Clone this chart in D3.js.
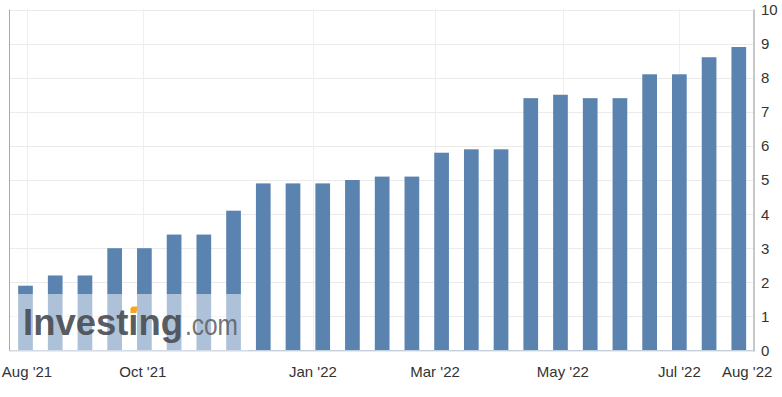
<!DOCTYPE html>
<html>
<head>
<meta charset="utf-8">
<style>
  body { margin: 0; background: #fff; }
  svg { display: block; font-family: "Liberation Sans", Arial, sans-serif; }
</style>
</head>
<body>
<svg width="782" height="397"></svg>
<script src="https://d3js.org/d3.v7.min.js"></script>
<script>

// bar values, one per release, oldest first
var values = [1.9, 2.2, 2.2, 3.0, 3.0, 3.4, 3.4, 4.1, 4.9, 4.9, 4.9, 5.0, 5.1,
              5.1, 5.8, 5.9, 5.9, 7.4, 7.5, 7.4, 7.4, 8.1, 8.1, 8.6, 8.9];

// x tick labels and where they fall (in bar index units)
var tickLabels = ["Aug '21", "Oct '21", "Jan '22", "Mar '22", "May '22", "Jul '22", "Aug '22"];
var tickPos = [0.05, 3.95, 9.67, 13.78, 18.08, 22.0, 24.28];

var yTicks = [0, 1, 2, 3, 4, 5, 6, 7, 8, 9, 10];

var svg = d3.select("svg");

var plotL = 9.5, plotR = 754, plotT = 9.5, plotB = 350.5;

var x = d3.scaleLinear()
    .domain([0, values.length - 1])
    .range([25.5, 738.8]);

var y = d3.scaleLinear()
    .domain([0, 10])
    .range([plotB, plotT]);

var barW = 14.7;

// horizontal grid
svg.append("g")
  .selectAll("line")
  .data(yTicks)
  .join("line")
    .attr("x1", plotL)
    .attr("x2", plotR)
    .attr("y1", function(d) { return Math.round(y(d)) + 0.5; })
    .attr("y2", function(d) { return Math.round(y(d)) + 0.5; })
    .attr("stroke", "#ebebeb")
    .attr("stroke-width", 1);

// vertical grid (not for the last label)
svg.append("g")
  .selectAll("line")
  .data(tickPos.slice(0, -1))
  .join("line")
    .attr("x1", function(d) { return Math.round(x(d)) + 0.5; })
    .attr("x2", function(d) { return Math.round(x(d)) + 0.5; })
    .attr("y1", plotT)
    .attr("y2", plotB)
    .attr("stroke", "#efefef")
    .attr("stroke-width", 1);

// bars
svg.append("g")
  .selectAll("rect")
  .data(values)
  .join("rect")
    .attr("x", function(d, i) { return x(i) - barW / 2; })
    .attr("y", function(d) { return y(d); })
    .attr("width", barW)
    .attr("height", function(d) { return plotB - y(d); })
    .attr("fill", "#5b83b0");

// frame lines
svg.append("line")
    .attr("x1", plotL).attr("x2", plotL)
    .attr("y1", plotT).attr("y2", plotB)
    .attr("stroke", "#a8a8a8");
svg.append("line")
    .attr("x1", plotL).attr("x2", plotR)
    .attr("y1", plotB).attr("y2", plotB)
    .attr("stroke", "#c4d0de");
svg.append("line")
    .attr("x1", plotR).attr("x2", plotR)
    .attr("y1", plotT).attr("y2", plotB + 1)
    .attr("stroke", "#c8c8c8")
    .attr("stroke-width", 2);

// watermark
var wm = svg.append("g");
wm.append("rect")
    .attr("x", 11)
    .attr("y", 294)
    .attr("width", 237)
    .attr("height", plotB - 294)
    .attr("fill", "#fff")
    .attr("fill-opacity", 0.5);
wm.append("text")
    .attr("x", 23)
    .attr("y", 335)
    .attr("textLength", 160)
    .attr("lengthAdjust", "spacingAndGlyphs")
    .attr("font-size", 37)
    .attr("font-weight", "bold")
    .attr("fill", "#4a4d52")
    .attr("fill-opacity", 0.92)
    .text("Investing");
wm.append("text")
    .attr("x", 185)
    .attr("y", 335)
    .attr("textLength", 53)
    .attr("lengthAdjust", "spacingAndGlyphs")
    .attr("font-size", 30)
    .attr("fill", "#5f6268")
    .attr("fill-opacity", 0.9)
    .text(".com");
wm.append("rect")
    .attr("x", 131)
    .attr("y", 306.5)
    .attr("width", 6)
    .attr("height", 6.5)
    .attr("transform", "skewX(-12)")
    .attr("transform-origin", "134 310")
    .attr("fill", "#f5a623");

// right axis labels
svg.append("g")
  .selectAll("text")
  .data(yTicks)
  .join("text")
    .attr("x", 761)
    .attr("y", function(d) { return y(d); })
    .attr("dy", "0.36em")
    .attr("font-size", 15)
    .attr("fill", "#333")
    .text(function(d) { return d; });

// bottom axis labels
svg.append("g")
  .selectAll("text")
  .data(tickPos)
  .join("text")
    .attr("x", function(d) { return x(d); })
    .attr("y", 377)
    .attr("text-anchor", "middle")
    .attr("font-size", 15)
    .attr("fill", "#333")
    .text(function(d, i) { return tickLabels[i]; });

</script>
</body>
</html>
